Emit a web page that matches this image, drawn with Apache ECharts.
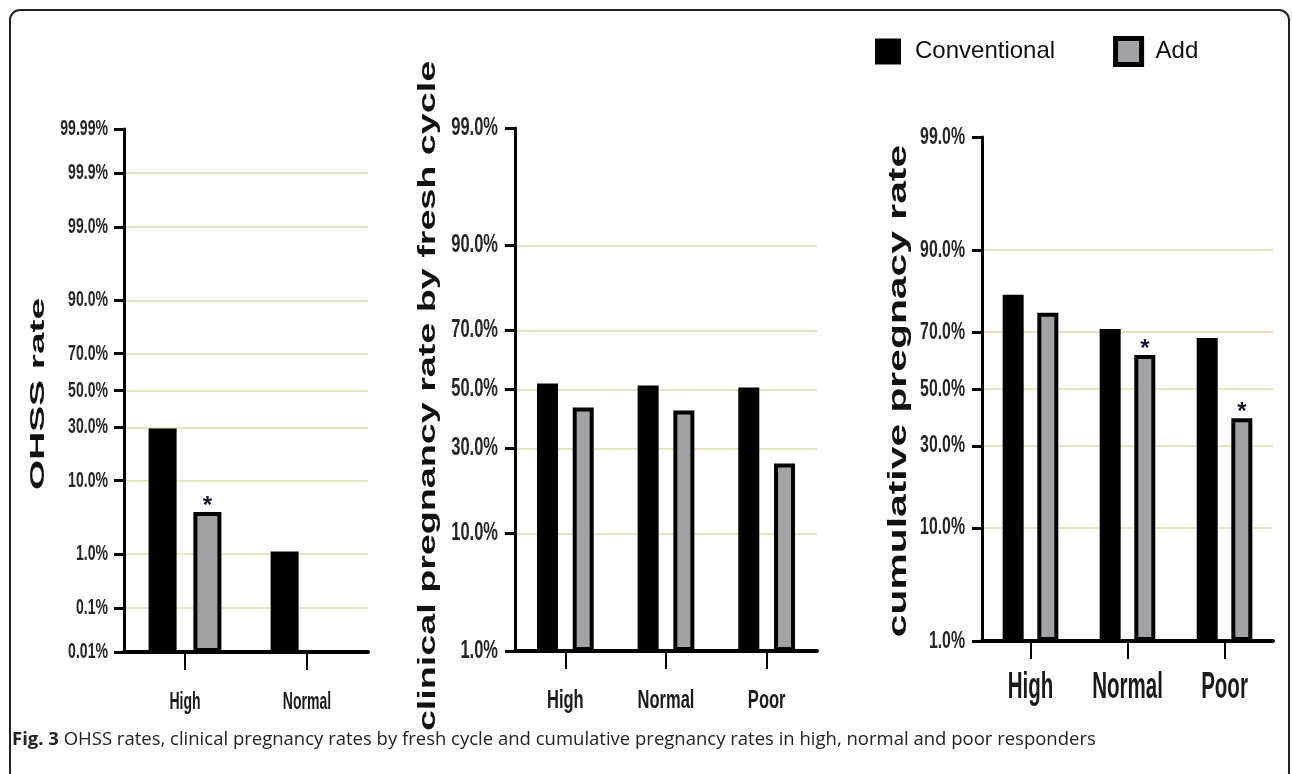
<!DOCTYPE html>
<html>
<head>
<meta charset="utf-8">
<script src="https://cdn.jsdelivr.net/npm/echarts@6/dist/echarts.min.js"></script>
<style>
  html, body { margin: 0; padding: 0; background: #fff; }
  #chart { width: 1292px; height: 774px; }
</style>
</head>
<body>
<div id="chart"></div>
<script>
// categories
const ohssCategories = ['High', 'Normal']
const pregCategories = ['High', 'Normal', 'Poor']

// values in percent
const ohssConventional = [29.4, 1.1]
const ohssAdd = [4.2, 0]
const ohssSig = [true, false]

const freshConventional = [52.1, 51.4, 50.7]
const freshAdd = [43.6, 42.6, 25.5]
const freshSig = [false, false, false]

const cumConventional = [80.8, 71.0, 68.1]
const cumAdd = [75.9, 62.3, 39.4]
const cumSig = [false, true, true]

// tick labels
const ohssTicks = [0.01, 0.1, 1, 10, 30, 50, 70, 90, 99, 99.9, 99.99]
const ohssTickLabels = ['0.01%', '0.1%', '1.0%', '10.0%', '30.0%', '50.0%', '70.0%', '90.0%', '99.0%', '99.9%', '99.99%']
const pregTicks = [1, 10, 30, 50, 70, 90, 99]
const pregTickLabels = ['1.0%', '10.0%', '30.0%', '50.0%', '70.0%', '90.0%', '99.0%']

// inverse normal CDF (Acklam) -> probability scale
const probit = (p) => {
  const a = [-3.969683028665376e+01, 2.209460984245205e+02, -2.759285104469687e+02, 1.383577518672690e+02, -3.066479806614716e+01, 2.506628277459239e+00]
  const b = [-5.447609879822406e+01, 1.615858368580409e+02, -1.556989798598866e+02, 6.680131188771972e+01, -1.328068155288572e+01]
  const c = [-7.784894002430293e-03, -3.223964580411365e-01, -2.400758277161838e+00, -2.549671348416972e+00, 4.374664141464968e+00, 2.938163982698783e+00]
  const d = [7.784695709041462e-03, 3.224671290700398e-01, 2.445134137142996e+00, 3.754408661907416e+00]
  const plow = 0.02425
  if (p < plow) {
    const q = Math.sqrt(-2 * Math.log(p))
    return (((((c[0] * q + c[1]) * q + c[2]) * q + c[3]) * q + c[4]) * q + c[5]) /
      ((((d[0] * q + d[1]) * q + d[2]) * q + d[3]) * q + 1)
  }
  if (p <= 1 - plow) {
    const q = p - 0.5
    const r = q * q
    return (((((a[0] * r + a[1]) * r + a[2]) * r + a[3]) * r + a[4]) * r + a[5]) * q /
      (((((b[0] * r + b[1]) * r + b[2]) * r + b[3]) * r + b[4]) * r + 1)
  }
  const q = Math.sqrt(-2 * Math.log(1 - p))
  return -(((((c[0] * q + c[1]) * q + c[2]) * q + c[3]) * q + c[4]) * q + c[5]) /
    ((((d[0] * q + d[1]) * q + d[2]) * q + d[3]) * q + 1)
}

// axis coordinate measured from the bottom tick so bars grow from the axis
const makeScale = (ticks) => {
  const base = probit(ticks[0] / 100)
  return (pct) => (pct > 0 ? probit(pct / 100) - base : null)
}
const ohssY = makeScale(ohssTicks)
const pregY = makeScale(pregTicks)

const arial = '"Liberation Sans", Arial, sans-serif'
const gridColor = '#e4e7bf'
const grayFill = '#a2a2a6'

const makeYAxis = (gridIndex, ticks, toY) => {
  const vals = ticks.map(toY)
  return {
    type: 'value',
    gridIndex,
    min: vals[0],
    max: vals[vals.length - 1],
    axisLine: { show: true, lineStyle: { color: '#000', width: 3 } },
    axisTick: { show: true, length: 10, customValues: vals, lineStyle: { color: '#000', width: 3 } },
    // labels are drawn below as condensed text, placed through the axis
    axisLabel: { show: false, customValues: vals },
    splitLine: { show: true, showMaxLine: false, showMinLine: false, lineStyle: { color: gridColor, width: 2 } },
  }
}

const makeXAxis = (gridIndex, cats) => ({
  type: 'category',
  gridIndex,
  data: cats,
  axisLine: { show: true, lineStyle: { color: '#000', width: 4 } },
  axisTick: { show: true, alignWithLabel: true, length: 18, lineStyle: { color: '#000', width: 2 } },
  axisLabel: { show: false, interval: 0 },
  splitLine: { show: false },
})

const makeSeries = (idx, conv, add, sig, toY, barWidth, barGap) => [
  {
    name: 'Conventional',
    type: 'bar',
    xAxisIndex: idx,
    yAxisIndex: idx,
    barWidth,
    barGap,
    itemStyle: { color: '#000', borderColor: '#000', borderWidth: 4 },
    data: conv.map(toY),
  },
  {
    name: 'Add',
    type: 'bar',
    xAxisIndex: idx,
    yAxisIndex: idx,
    barWidth,
    barGap,
    itemStyle: { color: grayFill, borderColor: '#000', borderWidth: 4 },
    label: {
      show: false,
      position: 'top',
      distance: -6,
      formatter: '*',
      fontFamily: arial,
      fontWeight: 'bold',
      fontSize: 24,
      color: '#14142a',
    },
    data: add.map((v, i) => ({ value: toY(v), label: { show: sig[i] } })),
  },
]

const titleText = (text, x, y, size, scaleX) => ({
  type: 'text',
  x,
  y,
  rotation: Math.PI / 2,
  scaleX,
  silent: true,
  style: {
    text,
    font: 'bold ' + size + 'px ' + arial,
    fill: '#111',
    align: 'center',
    verticalAlign: 'middle',
  },
})

const chart = echarts.init(document.getElementById('chart'))

const staticGraphics = [
  {
    type: 'rect',
    shape: { x: 10, y: 10, width: 1279, height: 772, r: 10 },
    style: { fill: 'none', stroke: '#222', lineWidth: 2 },
    silent: true,
  },
  titleText('OHSS rate', 38, 394, 21, 1.85),
  titleText('clinical pregnancy rate by fresh cycle', 428, 396, 24, 1.57),
  titleText('cumulative pregnacy rate', 899, 391, 26, 1.57),
  {
    type: 'text',
    x: 12,
    y: 740,
    silent: true,
    style: {
      text: '{b|Fig. 3} OHSS rates, clinical pregnancy rates by fresh cycle and cumulative pregnancy rates in high, normal and poor responders',
      font: '18.5px "Open Sans", "Noto Sans", sans-serif',
      fill: '#222',
      verticalAlign: 'middle',
      rich: {
        b: { fontWeight: 'bold', fontSize: 18.5, fontFamily: '"Open Sans", "Noto Sans", sans-serif', fill: '#222' },
      },
    },
  },
]

const option = {
  backgroundColor: '#fff',
  animation: false,
  legend: {
    left: 870,
    top: 31,
    itemWidth: 26,
    itemHeight: 26,
    itemGap: 58,
    icon: 'rect',
    data: [
      { name: 'Conventional', itemStyle: { color: '#000', borderColor: '#000', borderWidth: 0 } },
      { name: 'Add', itemStyle: { color: grayFill, borderColor: '#000', borderWidth: 5 } },
    ],
    textStyle: { fontFamily: arial, fontSize: 24, color: '#111', padding: [0, 0, 0, 9] },
  },
  grid: [
    { left: 124, top: 129, width: 244, height: 523, outerBoundsMode: 'none' },
    { left: 515, top: 128, width: 302, height: 523, outerBoundsMode: 'none' },
    { left: 982, top: 137, width: 291, height: 504, outerBoundsMode: 'none' },
  ],
  xAxis: [makeXAxis(0, ohssCategories), makeXAxis(1, pregCategories), makeXAxis(2, pregCategories)],
  yAxis: [makeYAxis(0, ohssTicks, ohssY), makeYAxis(1, pregTicks, pregY), makeYAxis(2, pregTicks, pregY)],
  series: [
    ...makeSeries(0, ohssConventional, ohssAdd, ohssSig, ohssY, 28, '60%'),
    ...makeSeries(1, freshConventional, freshAdd, freshSig, pregY, 21, '70%'),
    ...makeSeries(2, cumConventional, cumAdd, cumSig, pregY, 21, '65%'),
  ],
  graphic: staticGraphics,
}

chart.setOption(option)

// condensed tick labels, positioned by the axes themselves
const yLabelSpecs = [
  { axis: 0, ticks: ohssTicks, labels: ohssTickLabels, toY: ohssY, right: 108, size: 22, sx: 0.64 },
  { axis: 1, ticks: pregTicks, labels: pregTickLabels, toY: pregY, right: 498, size: 25, sx: 0.66 },
  { axis: 2, ticks: pregTicks, labels: pregTickLabels, toY: pregY, right: 965, size: 24, sx: 0.66 },
]
const xLabelSpecs = [
  { axis: 0, cats: ohssCategories, y: 703, size: 23, sx: 0.61 },
  { axis: 1, cats: pregCategories, y: 701, size: 25, sx: 0.66 },
  { axis: 2, cats: pregCategories, y: 688, size: 36, sx: 0.57 },
]

const labelGraphics = []
yLabelSpecs.forEach((s) => {
  s.ticks.forEach((t, i) => {
    labelGraphics.push({
      type: 'text',
      x: s.right,
      y: chart.convertToPixel({ yAxisIndex: s.axis }, s.toY(t)),
      scaleX: s.sx,
      silent: true,
      style: { text: s.labels[i], font: 'bold ' + s.size + 'px ' + arial, fill: '#262626', align: 'right', verticalAlign: 'middle' },
    })
  })
})
xLabelSpecs.forEach((s) => {
  s.cats.forEach((c) => {
    labelGraphics.push({
      type: 'text',
      x: chart.convertToPixel({ xAxisIndex: s.axis }, c),
      y: s.y,
      scaleX: s.sx,
      silent: true,
      style: { text: c, font: 'bold ' + s.size + 'px ' + arial, fill: '#1a1a1a', align: 'center', verticalAlign: 'middle' },
    })
  })
})

chart.setOption({ graphic: staticGraphics.concat(labelGraphics) })
</script>
</body>
</html>
